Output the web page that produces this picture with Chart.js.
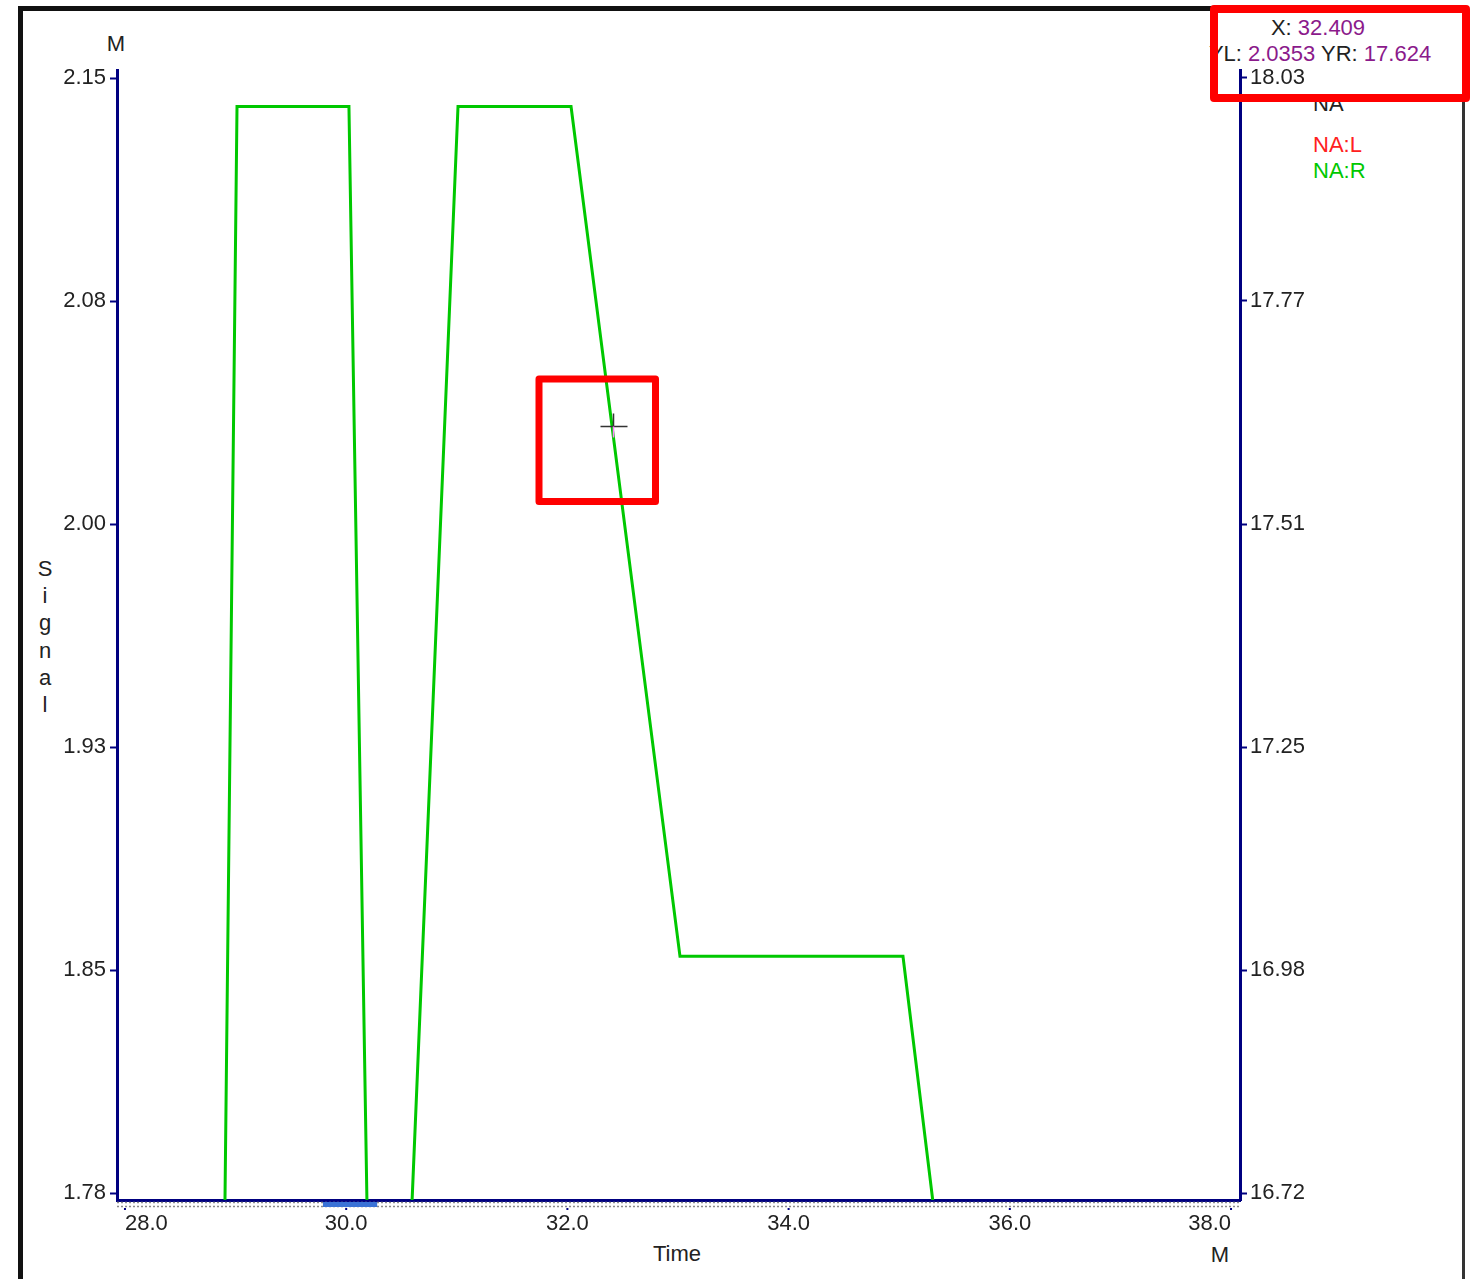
<!DOCTYPE html>
<html>
<head>
<meta charset="utf-8">
<script src="https://cdn.jsdelivr.net/npm/chart.js@4.4.0/dist/chart.umd.min.js"></script>
<style>
  body { margin: 0; background: #fff; }
  #wrap { position: relative; width: 1475px; height: 1279px; overflow: hidden;
          font-family: 'Liberation Sans', Arial, sans-serif;
          font-size: 22px; color: #222; }
  #wrap canvas { position: absolute; left: 0; top: 0; z-index: 1; }
  .lbl { position: absolute; white-space: nowrap; line-height: 22px; }
  .c { transform: translate(-50%, -50%); }
  .l { transform: translate(0, -50%); }
  .val { color: #8b1a8b; }
  #signal { position: absolute; left: 45px; top: 555px; transform: translateX(-50%);
            line-height: 27.2px; text-align: center; }
</style>
</head>
<body>
<div id="wrap">
  <canvas id="myChart" width="1475" height="1279"></canvas>
  <div class="lbl c" style="left:116px;top:44px">M</div>
  <div class="lbl c" style="left:1220px;top:1255px">M</div>
  <div class="lbl c" style="left:677px;top:1254px">Time</div>
  <div id="signal">S<br>i<br>g<br>n<br>a<br>l</div>
  <div id="readX" class="lbl c" style="left:1318px;top:28px"></div>
  <div id="readY" class="lbl c" style="left:1320px;top:54px"></div>
  <div id="legend"></div>
</div>
<script>
// time axis (M) and signal values
var timeValues = [27.93, 28.904, 29.013, 30.025, 30.188, 30.595, 31.011, 32.033, 33.018, 35.034, 35.306, 38.08];
var naRValues = [16.71, 16.71, 18.0, 18.0, 16.71, 16.71, 18.0, 18.0, 17.0, 17.0, 16.71, 16.71];
var naLValues = [];

var xTicks = [28, 30, 32, 34, 36, 38];
var xTickLabels = ["28.0", "30.0", "32.0", "34.0", "36.0", "38.0"];
var yLTicks = [2.15, 2.076, 2.002, 1.928, 1.854, 1.78];
var yLTickLabels = ["2.15", "2.08", "2.00", "1.93", "1.85", "1.78"];
var yRTicks = [18.0335, 17.7711, 17.5087, 17.2463, 16.9839, 16.7215];
var yRTickLabels = ["18.03", "17.77", "17.51", "17.25", "16.98", "16.72"];

// cursor readout
var cursorX = 32.409;
var cursorYL = 2.0353;
var cursorYR = 17.624;
var selRange = [29.79, 30.28];

var FONT = "'Liberation Sans', Arial, sans-serif";
var NAVY = "#000080";

document.getElementById("readX").innerHTML = 'X: <span class="val">' + cursorX.toFixed(3) + "</span>";
document.getElementById("readY").innerHTML = 'YL: <span class="val">' + cursorYL.toFixed(4) +
  '</span> YR: <span class="val">' + cursorYR.toFixed(3) + "</span>";

var datasets = [
  {
    label: "NA:L",
    borderColor: "#ff2020",
    yAxisID: "yL",
    data: naLValues.map((v, i) => ({ x: timeValues[i], y: v }))
  },
  {
    label: "NA:R",
    borderColor: "#00c800",
    yAxisID: "yR",
    data: naRValues.map((v, i) => ({ x: timeValues[i], y: v }))
  }
];

// legend text
var legendHtml = '<div class="lbl l" style="left:1313px;top:104px">NA</div>';
datasets.forEach((d, i) => {
  legendHtml += '<div class="lbl l" style="left:1313px;top:' + (145 + i * 26) + 'px;color:' + d.borderColor + '">' + d.label + "</div>";
});
document.getElementById("legend").innerHTML = legendHtml;

// frame, selection strip, cursor and highlight boxes
var extras = {
  id: "extras",
  afterDraw(chart) {
    let c = chart.ctx, a = chart.chartArea, xs = chart.scales.x, yr = chart.scales.yR;
    c.save();
    // window frame
    c.fillStyle = "#111";
    c.fillRect(18, 6, 5, 1279);
    c.fillRect(18, 6, 1447, 5);
    c.fillStyle = "#333";
    c.fillRect(1462, 6, 3, 1279);

    // dotted strip under the time axis
    c.strokeStyle = "#8a8a8a";
    c.lineWidth = 1.5;
    c.setLineDash([2, 2]);
    c.beginPath();
    c.moveTo(a.left, a.bottom + 2.5); c.lineTo(a.right, a.bottom + 2.5);
    c.moveTo(a.left, a.bottom + 6.5); c.lineTo(a.right, a.bottom + 6.5);
    c.stroke();
    c.setLineDash([]);
    let s0 = xs.getPixelForValue(selRange[0]), s1 = xs.getPixelForValue(selRange[1]);
    c.fillStyle = "#3a72d6";
    c.fillRect(s0, a.bottom + 2, s1 - s0, 5);
    c.fillStyle = NAVY;
    xTicks.forEach(t => c.fillRect(xs.getPixelForValue(t) - 1, a.bottom + 8, 2, 2));

    // cursor crosshair
    let cx = Math.round(xs.getPixelForValue(cursorX)) + 0.5;
    let cy = Math.round(yr.getPixelForValue(cursorYR)) + 0.5;
    c.lineWidth = 1.5;
    c.strokeStyle = "#333";
    c.beginPath();
    c.moveTo(cx - 13, cy); c.lineTo(cx + 14, cy);
    c.moveTo(cx, cy - 13); c.lineTo(cx, cy);
    c.stroke();
    c.strokeStyle = "#ff80ff";
    c.beginPath();
    c.moveTo(cx, cy); c.lineTo(cx, cy + 11);
    c.stroke();

    // red highlight boxes
    c.strokeStyle = "#ff0000";
    c.lineWidth = 8;
    c.lineJoin = "round";
    c.strokeRect(1214, 9, 252, 89);
    c.lineWidth = 7;
    c.strokeRect(cx - 74.5, cy - 47.5, 116.5, 122.5);
    c.restore();
  }
};

var ctx = document.getElementById("myChart").getContext("2d");
Chart.defaults.font.family = FONT;
Chart.defaults.font.size = 22;
Chart.defaults.color = "#222";

var myChart = new Chart(ctx, {
  type: "line",
  data: { datasets: datasets },
  options: {
    responsive: false,
    animation: false,
    layout: { padding: { top: 70, left: 0, right: 0, bottom: 0 } },
    elements: {
      line: { borderWidth: 3, tension: 0, fill: false },
      point: { radius: 0 }
    },
    plugins: { legend: { display: false }, tooltip: { enabled: false } },
    scales: {
      x: {
        type: "linear",
        min: 27.928,
        max: 38.081,
        z: 1,
        afterFit: s => { s.height = 79; },
        afterBuildTicks: s => { s.ticks = xTicks.map(v => ({ value: v })); },
        border: { display: true, color: NAVY, width: 3 },
        grid: { display: true, drawOnChartArea: false, drawTicks: false },
        ticks: {
          autoSkip: false, maxRotation: 0, align: "inner", padding: 11,
          callback: (v, i) => xTickLabels[i]
        }
      },
      yL: {
        type: "linear",
        position: "left",
        min: 1.7777,
        max: 2.1527,
        z: 1,
        afterFit: s => { s.width = 117; },
        afterBuildTicks: s => { s.ticks = yLTicks.map(v => ({ value: v })); },
        border: { display: true, color: NAVY, width: 3 },
        grid: { drawOnChartArea: false, color: NAVY, tickLength: 7, tickWidth: 2 },
        ticks: { padding: 4, callback: (v, i) => yLTickLabels[i] }
      },
      yR: {
        type: "linear",
        position: "right",
        min: 16.7133,
        max: 18.0429,
        z: 1,
        afterFit: s => { s.width = 235; },
        afterBuildTicks: s => { s.ticks = yRTicks.map(v => ({ value: v })); },
        border: { display: true, color: NAVY, width: 3 },
        grid: { drawOnChartArea: false, color: NAVY, tickLength: 7, tickWidth: 2 },
        ticks: { padding: 3, callback: (v, i) => yRTickLabels[i] }
      }
    }
  },
  plugins: [extras]
});
</script>
</body>
</html>
